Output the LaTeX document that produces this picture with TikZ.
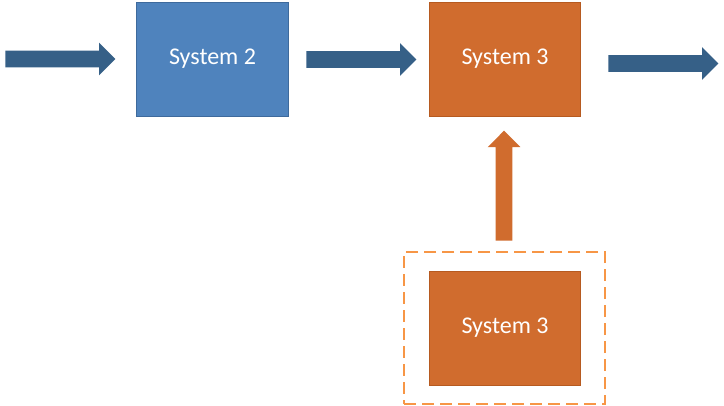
\documentclass[tikz,border=0pt]{standalone}
\usepackage{fontspec}
\setmainfont{Carlito}
\usetikzlibrary{shapes.arrows}
\definecolor{sysblue}{RGB}{79,131,189}
\definecolor{sysblueline}{RGB}{62,106,156}
\definecolor{sysorange}{RGB}{208,108,46}
\definecolor{sysorangeline}{RGB}{182,90,32}
\definecolor{arrowblue}{RGB}{54,96,135}
\definecolor{frameorange}{RGB}{247,150,70}
\tikzset{sysbox/.style={rectangle,draw,line width=0.6pt,minimum width=113.5pt,minimum height=85.5pt,
	 text=white,font=\fontsize{18}{21}\selectfont},
	 blockarrow/.style={single arrow,fill=arrowblue,inner xsep=0pt,inner ysep=6pt,anchor=tail,
	 minimum height=82.5pt,minimum width=24pt,single arrow head extend=6pt},
	 frame/.style={rectangle,draw=frameorange,line width=1.5pt,dash pattern=on 9pt off 4.5pt,
	 minimum width=150.75pt,minimum height=114pt}
	 }

\begin{document}
\begin{tikzpicture}[x=0.75pt,y=-0.75pt]
      \useasboundingbox (0,0) rectangle (724,405);
      \node[sysbox,fill=sysblue,draw=sysblueline] (sys2) at (212.5,59) {System 2};
      \node[sysbox,fill=sysorange,draw=sysorangeline] (sys3) at (505,59) {System 3};
      \node[sysbox,fill=sysorange,draw=sysorangeline] (sys3b) at (505,328) {System 3};
      \node[frame] (frame) at (504.5,328) {};
      \node[blockarrow] (in) at (5,59) {};
      \node[blockarrow] (mid) at (306,59.5) {};
      \node[blockarrow] (out) at (608,63.5) {};
      \node[blockarrow,fill=sysorange,rotate=90] (up) at (504,241) {};
  \end{tikzpicture}
\end{document}
